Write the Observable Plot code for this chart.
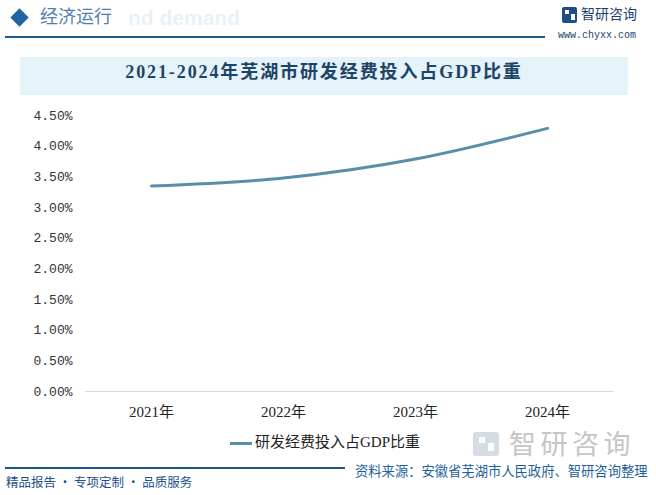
<!DOCTYPE html>
<html><head><meta charset="utf-8">
<script src="https://cdn.jsdelivr.net/npm/d3@7"></script>
<script src="https://cdn.jsdelivr.net/npm/@observablehq/plot@0.6"></script>
<style>
body{margin:0;background:#fff;}
#page{position:relative;width:656px;height:495px;overflow:hidden;background:#fff;font-family:"Noto Sans CJK SC","Noto Sans",sans-serif;}
.abs{position:absolute;white-space:nowrap;}
#chart{position:absolute;left:0;top:100px;}
</style></head>
<body><div id="page">
  <div class="abs" style="left:128px;top:7px;font:bold 21px/1 'Liberation Sans',sans-serif;color:#e9f1f7;">nd demand</div>
  <div class="abs" style="left:13px;top:11px;width:13px;height:13px;background:#1f64a0;transform:rotate(45deg);"></div>
  <div class="abs" style="left:40px;top:5px;font-size:18px;line-height:1.2;color:#4f7fae;">经济运行</div>
  <div class="abs" style="left:5px;top:36px;width:540px;height:2px;background:#1d5a8c;"></div>
  <div class="abs" style="left:562px;top:7px;width:15px;height:16px;border-radius:2px;background:#1d4f86;"></div>
  <div class="abs" style="left:565px;top:10px;width:4px;height:4px;background:#fff;"></div>
  <div class="abs" style="left:571px;top:14px;width:4px;height:6px;background:#fff;"></div>
  <div class="abs" style="left:581px;top:3px;font-size:14px;color:#1d3f6e;">智研咨询</div>
  <div class="abs" style="left:558px;top:31px;font:10px/1 'Liberation Mono',monospace;color:#1d3f6e;">www.chyxx.com</div>
  <div class="abs" style="left:20px;top:57px;width:608px;height:38px;background:#e5f2fa;"></div>
  <div class="abs" id="title" style="left:20px;top:57px;width:608px;height:38px;line-height:38px;text-align:center;font:bold 18px 'Liberation Serif','Noto Sans CJK SC',serif;letter-spacing:1.9px;color:#1c4466;"></div>
  <div id="chart"></div>
  <div class="abs" style="left:473px;top:432px;width:26px;height:24px;border-radius:3px;background:#d5dce4;"></div>
  <div class="abs" style="left:479px;top:437px;width:6px;height:6px;background:#fff;"></div>
  <div class="abs" style="left:488px;top:443px;width:6px;height:8px;background:#fff;"></div>
  <div class="abs" style="left:509px;top:429px;font-size:27px;line-height:1;color:#c6c6c6;letter-spacing:4.5px;">智研咨询</div>
  <div class="abs" id="legend" style="left:230px;top:430px;font:15px 'Liberation Serif','Noto Sans CJK SC',serif;color:#222;"></div>
  <div class="abs" style="left:5px;top:467px;width:340px;height:2px;background:#1d5a8c;"></div>
  <div class="abs" id="source" style="left:355px;top:464px;font-size:13.3px;line-height:1;color:#1d5f9c;"></div>
  <div class="abs" style="left:6px;top:476px;font-size:12.5px;line-height:1;color:#1d4f8a;">精品报告 · 专项定制 · 品质服务</div>
</div>
<script>
const title = "2021-2024年芜湖市研发经费投入占GDP比重";
const seriesName = "研发经费投入占GDP比重";
const source = "资料来源：安徽省芜湖市人民政府、智研咨询整理";
const years = ["2021年", "2022年", "2023年", "2024年"];
const values = [3.35, 3.48, 3.79, 4.29];
const yTicks = [0, 0.5, 1, 1.5, 2, 2.5, 3, 3.5, 4, 4.5];
const lineColor = "#5a8ea6";

document.getElementById("title").textContent = title;
document.getElementById("source").textContent = source;
document.getElementById("legend").innerHTML =
  `<span style="display:inline-block;width:22px;height:3px;background:${lineColor};vertical-align:middle;margin-right:3px;"></span>${seriesName}`;

const data = years.map((y, i) => ({year: y, value: values[i]}));

const chart = Plot.plot({
  width: 656,
  height: 330,
  marginLeft: 85,
  marginRight: 43,
  marginTop: 15,
  marginBottom: 39,
  style: {background: "transparent", fontSize: "13px", color: "#333"},
  x: {type: "point", domain: years, padding: 0.5, label: null},
  y: {domain: [0, 4.5], label: null},
  marks: [
    Plot.axisY({ticks: yTicks, tickSize: 0, tickPadding: 13, tickFormat: d => d.toFixed(2) + "%",
      fontFamily: "Liberation Mono, monospace", fontSize: 13, fill: "#333"}),
    Plot.axisX({tickSize: 0, tickPadding: 15, fontFamily: "Liberation Serif, Noto Sans CJK SC, serif", fontSize: 15, fill: "#222"}),
    Plot.ruleY([0], {stroke: "#d9d9d9", strokeWidth: 1}),
    Plot.line(data, {x: "year", y: "value", stroke: lineColor, strokeWidth: 3, curve: "monotone-x"})
  ]
});
document.getElementById("chart").appendChild(chart);
</script>
</body></html>
